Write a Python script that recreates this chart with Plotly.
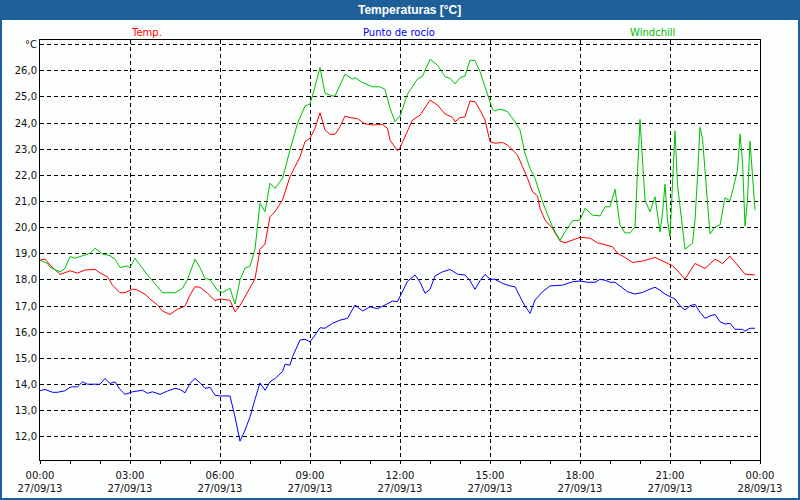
""" temperature chart for 27/09/13: temp, dew point and windchill
"""
import pandas as pd
import plotly.graph_objects as go

# minutes after midnight and values
temp_min = [0, 10, 20, 40, 60, 75, 90, 110, 120, 135,
            145, 160, 170, 185, 195, 210, 225, 235, 245, 260,
            275, 290, 300, 310, 320, 335, 350, 360, 380, 390,
            400, 415, 420, 430, 440, 450, 460, 470, 485, 500,
            520, 530, 540, 550, 560, 570, 580, 590, 600, 610,
            620, 635, 650, 665, 685, 695, 700, 715, 720, 740,
            745, 760, 780, 795, 810, 825, 830, 840, 850, 860,
            870, 880, 890, 900, 910, 925, 935, 945, 955, 965,
            975, 985, 995, 1000, 1010, 1025, 1035, 1040, 1050, 1065,
            1080, 1100, 1115, 1145, 1155, 1170, 1185, 1205, 1230, 1245,
            1265, 1275, 1290, 1310, 1330, 1350, 1365, 1380, 1395, 1410,
            1430]
temp_val = [18.76, 18.80, 18.57, 18.21, 18.35, 18.26, 18.38, 18.40, 18.27, 18.12,
            17.80, 17.51, 17.51, 17.65, 17.61, 17.45, 17.19, 17.04, 16.81, 16.68,
            16.88, 17.00, 17.42, 17.74, 17.72, 17.49, 17.21, 17.27, 17.22, 16.78,
            17.02, 17.52, 17.66, 18.04, 19.17, 19.37, 20.42, 20.61, 21.06, 21.95,
            22.71, 23.29, 23.42, 23.80, 24.40, 23.74, 23.57, 23.57, 23.86, 24.27,
            24.21, 24.17, 23.97, 23.93, 23.95, 23.80, 23.35, 22.94, 23.06, 23.93,
            24.12, 24.30, 24.88, 24.69, 24.35, 24.22, 24.05, 24.21, 24.24, 24.85,
            24.82, 24.50, 24.12, 23.29, 23.23, 23.26, 23.16, 22.97, 22.78, 22.33,
            21.89, 21.37, 21.21, 20.74, 20.29, 19.97, 19.65, 19.49, 19.42, 19.53,
            19.63, 19.60, 19.42, 19.27, 19.02, 18.86, 18.67, 18.72, 18.86, 18.73,
            18.54, 18.35, 18.03, 18.63, 18.44, 18.79, 18.63, 18.91, 18.57, 18.22,
            18.19]

dew_min = [0, 10, 25, 35, 50, 60, 65, 75, 85, 95,
           115, 120, 130, 140, 150, 160, 170, 185, 205, 215,
           225, 240, 255, 270, 280, 290, 300, 310, 320, 330,
           340, 350, 360, 380, 390, 400, 410, 420, 430, 440,
           450, 460, 470, 485, 490, 500, 505, 520, 530, 540,
           550, 560, 570, 585, 600, 615, 630, 645, 660, 675,
           690, 705, 715, 720, 735, 750, 760, 770, 780, 790,
           805, 820, 835, 850, 860, 870, 880, 890, 900, 910,
           925, 940, 950, 960, 970, 980, 990, 1005, 1020, 1045,
           1065, 1080, 1095, 1110, 1120, 1130, 1140, 1150, 1165, 1175,
           1190, 1205, 1215, 1230, 1240, 1250, 1260, 1270, 1280, 1290,
           1300, 1310, 1320, 1330, 1340, 1350, 1360, 1370, 1380, 1390,
           1405, 1410, 1420, 1430]
dew_val = [13.76, 13.81, 13.70, 13.70, 13.76, 13.89, 13.91, 13.91, 14.10, 14.01,
           14.01, 14.01, 14.23, 14.04, 14.10, 13.81, 13.62, 13.72, 13.78, 13.66,
           13.72, 13.62, 13.75, 13.85, 13.81, 13.68, 14.04, 14.23, 14.06, 13.85,
           13.89, 13.59, 13.56, 13.56, 12.76, 11.83, 12.25, 12.76, 13.43, 14.06,
           13.78, 14.10, 14.23, 14.49, 14.77, 14.74, 15.06, 15.70, 15.73, 15.63,
           15.89, 16.17, 16.15, 16.34, 16.46, 16.53, 17.04, 16.81, 16.97, 16.90,
           17.04, 17.19, 17.17, 17.38, 17.95, 18.19, 17.92, 17.49, 17.64, 18.15,
           18.31, 18.40, 18.22, 18.19, 17.97, 17.64, 17.97, 18.21, 18.03, 18.02,
           17.87, 17.77, 17.74, 17.36, 17.00, 16.72, 17.23, 17.55, 17.77, 17.80,
           17.93, 17.96, 17.91, 17.91, 18.02, 17.99, 17.91, 17.91, 17.68, 17.55,
           17.46, 17.52, 17.61, 17.72, 17.61, 17.46, 17.36, 17.27, 17.01, 16.85,
           17.01, 17.07, 16.76, 16.53, 16.62, 16.68, 16.40, 16.31, 16.34, 16.11,
           16.11, 16.04, 16.15, 16.15]

wind_min = [0, 15, 20, 40, 50, 60, 70, 85, 100, 110,
            125, 140, 150, 160, 175, 180, 190, 200, 215, 235,
            245, 270, 285, 295, 310, 320, 330, 340, 355, 365,
            380, 390, 400, 410, 420, 430, 440, 450, 460, 470,
            485, 500, 515, 530, 540, 550, 560, 570, 585, 590,
            600, 610, 625, 630, 645, 665, 680, 690, 700, 710,
            720, 735, 755, 765, 780, 795, 810, 820, 830, 840,
            850, 860, 870, 880, 890, 900, 905, 910, 920, 935,
            950, 960, 970, 980, 990, 1005, 1015, 1025, 1040, 1050,
            1065, 1080, 1090, 1105, 1120, 1130, 1140, 1150, 1160, 1170,
            1180, 1190, 1195, 1200, 1205, 1210, 1220, 1230, 1240, 1245,
            1250, 1255, 1260, 1265, 1270, 1275, 1285, 1290, 1305, 1310,
            1315, 1320, 1325, 1330, 1340, 1350, 1360, 1370, 1380, 1385,
            1395, 1400, 1405, 1410, 1415, 1420, 1425, 1430]
wind_val = [18.76, 18.63, 18.48, 18.31, 18.44, 18.89, 18.83, 18.93, 19.02, 19.21,
            18.99, 18.93, 18.79, 18.48, 18.53, 18.47, 18.83, 18.57, 18.19, 17.74,
            17.51, 17.51, 17.68, 18.02, 18.79, 18.47, 18.06, 18.01, 17.60, 17.52,
            17.68, 17.08, 18.00, 18.45, 18.52, 19.18, 20.93, 20.61, 21.70, 21.50,
            21.89, 22.97, 23.99, 24.65, 24.73, 25.39, 26.13, 25.14, 25.04, 25.04,
            25.46, 25.87, 25.68, 25.74, 25.55, 25.39, 25.39, 25.29, 24.57, 24.06,
            24.27, 25.11, 25.69, 25.80, 26.44, 26.22, 25.78, 25.71, 25.50, 25.74,
            25.80, 26.41, 26.39, 25.97, 25.39, 24.82, 24.53, 24.46, 24.54, 24.44,
            24.05, 23.74, 22.84, 22.27, 21.89, 20.99, 20.48, 20.03, 19.51, 19.84,
            20.26, 20.29, 20.74, 20.48, 20.45, 20.80, 20.80, 21.47, 20.10, 19.80,
            19.80, 20.03, 22.14, 24.14, 22.59, 21.06, 20.61, 21.18, 19.84, 20.55,
            21.66, 20.29, 19.65, 21.82, 23.71, 21.63, 19.91, 19.18, 19.40, 20.29,
            21.95, 23.84, 23.42, 22.27, 19.76, 20.03, 20.10, 21.14, 21.03, 21.40,
            22.20, 23.58, 22.52, 20.06, 21.06, 23.31, 22.08, 20.67]

x_tick_text = ["00:00<br>27/09/13", "03:00<br>27/09/13", "06:00<br>27/09/13",
               "09:00<br>27/09/13", "12:00<br>27/09/13", "15:00<br>27/09/13",
               "18:00<br>27/09/13", "21:00<br>27/09/13", "00:00<br>28/09/13"]
y_tick_vals = [12, 13, 14, 15, 16, 17, 18, 19, 20, 21, 22, 23, 24, 25, 26, 27]
y_tick_text = ["12,0", "13,0", "14,0", "15,0", "16,0", "17,0", "18,0", "19,0",
               "20,0", "21,0", "22,0", "23,0", "24,0", "25,0", "26,0", "°C"]

DAY = pd.Timestamp("2013-09-27")
W, H = 800, 500
ML, MR, MT, MB = 40, 40, 40, 40
BAR_BLUE = "#1f5f99"


def to_time(minutes):
    """ minutes after midnight -> timestamps
    """
    return DAY + pd.to_timedelta(minutes, unit="min")


def px_x(px):
    """ pixel x -> paper x
    """
    return (px - ML) / (W - ML - MR)


def px_y(py):
    """ pixel y -> paper y
    """
    return (H - MB - py) / (H - MT - MB)


def main():
    """ main-function
    """
    fig = go.Figure()
    series = [(temp_min, temp_val, "Temp.", "#ff0000"),
              (dew_min, dew_val, "Punto de rocío", "#0000ff"),
              (wind_min, wind_val, "Windchill", "#00c000")]
    for mins, vals, name, colour in series:
        fig.add_trace(go.Scatter(x=to_time(mins), y=vals, name=name, mode="lines",
                                 line=dict(color=colour, width=1), showlegend=False))

    # text-only legend in three equal columns
    legend_x = [146, 399, 652]
    annotations = []
    for (_, _, name, colour), lx in zip(series, legend_x):
        annotations.append(dict(text=name, x=px_x(lx), y=px_y(32), xref="paper", yref="paper",
                                showarrow=False, xanchor="center", yanchor="middle",
                                font=dict(color=colour, size=10)))
    annotations.append(dict(text="<b>Temperaturas [°C]</b>", x=px_x(410), y=px_y(10),
                            xref="paper", yref="paper", showarrow=False,
                            xanchor="center", yanchor="middle",
                            font=dict(family="Liberation Sans, Arial, sans-serif",
                                      color="white", size=12)))

    shapes = [
        # title bar
        dict(type="rect", xref="paper", yref="paper", x0=px_x(0), x1=px_x(W),
             y0=px_y(20), y1=px_y(0), fillcolor=BAR_BLUE, line=dict(width=0), layer="below"),
        # window border
        dict(type="rect", xref="paper", yref="paper", x0=px_x(1), x1=px_x(W - 1),
             y0=px_y(H - 1), y1=px_y(1), line=dict(color=BAR_BLUE, width=2)),
    ]

    x_ticks = to_time([h * 60 for h in range(0, 25, 3)])
    fig.update_layout(
        width=W, height=H,
        margin=dict(l=ML, r=MR, t=MT, b=MB),
        paper_bgcolor="#fcfdfd", plot_bgcolor="#fcfdfd",
        font=dict(family="DejaVu Sans, Verdana, sans-serif", size=10, color="#111111"),
        annotations=annotations,
        shapes=shapes,
        xaxis=dict(type="date", range=[DAY, DAY + pd.Timedelta(days=1)],
                   tickmode="array", tickvals=x_ticks, ticktext=x_tick_text,
                   ticks="outside", ticklen=3, tickcolor="black", ticklabelstandoff=3,
                   minor=dict(dtick=3600000, tick0=DAY, ticks="outside", ticklen=3,
                              tickcolor="black", showgrid=False),
                   showgrid=True, gridcolor="black", gridwidth=1, griddash="4px,3px",
                   showline=True, linecolor="black", linewidth=1, mirror=True,
                   zeroline=False, automargin=False),
        yaxis=dict(range=[11.11, 27.18], tickmode="array",
                   tickvals=y_tick_vals, ticktext=y_tick_text, ticks="",
                   showgrid=True, gridcolor="black", gridwidth=1, griddash="4px,3px",
                   showline=True, linecolor="black", linewidth=1, mirror=True,
                   zeroline=False, automargin=False),
    )
    # page margin off so the figure sits at the window's corner
    fig.write_html("out.html", config={"displayModeBar": False},
                   post_script="document.body.style.margin='0';"
                               "document.body.style.overflow='hidden';")


if __name__ == "__main__":
    main()
